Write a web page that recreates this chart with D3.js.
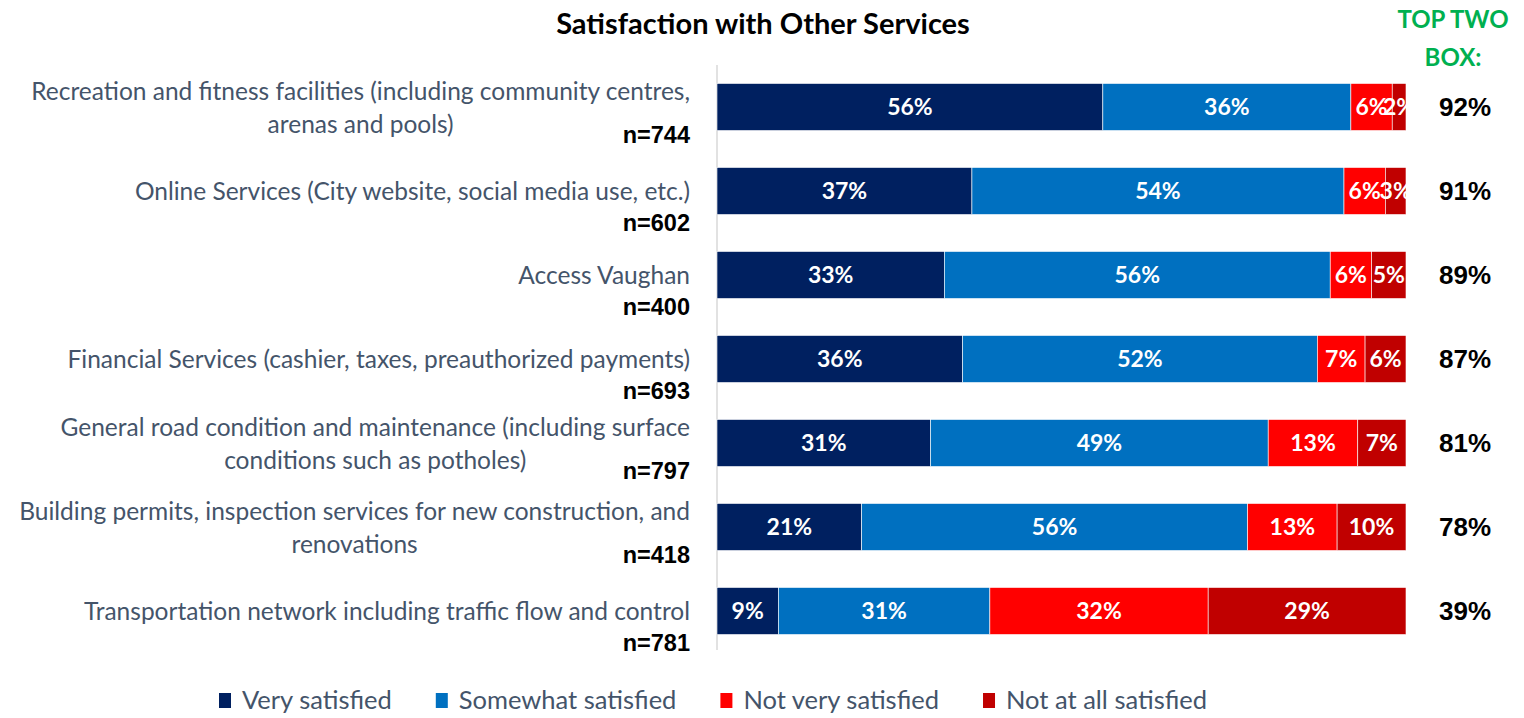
<!DOCTYPE html>
<html>
<head>
<meta charset="utf-8">
<script src="https://cdn.jsdelivr.net/npm/d3@7"></script>
<style>
    body { margin: 0; background: #fff; }
    svg { display: block; }
</style>
</head>
<body>
<div id="chart"></div>
<script>
// chart data
const categories = [
    ["Recreation and fitness facilities (including community centres,", "arenas and pools)"],
    ["Online Services (City website, social media use, etc.)"],
    ["Access Vaughan"],
    ["Financial Services (cashier, taxes, preauthorized payments)"],
    ["General road condition and maintenance (including surface", "conditions such as potholes)"],
    ["Building permits, inspection services for new construction, and", "renovations"],
    ["Transportation network including traffic flow and control"]
];
const sampleSizes = [744, 602, 400, 693, 797, 418, 781];
const seriesNames = ["Very satisfied", "Somewhat satisfied", "Not very satisfied", "Not at all satisfied"];
const verySatisfied = [56, 37, 33, 36, 31, 21, 9];
const somewhatSatisfied = [36, 54, 56, 52, 49, 56, 31];
const notVerySatisfied = [6, 6, 6, 7, 13, 13, 32];
const notAtAllSatisfied = [2, 3, 5, 6, 7, 10, 29];
const topTwoBox = [92, 91, 89, 87, 81, 78, 39];

const seriesColors = ["#002060", "#0070C0", "#FF0000", "#C00000"];
const labelFont = "Lato, 'Open Sans', sans-serif";
const numFont = "'Liberation Sans', Arial, sans-serif";
const labelSize = 24.5;

let width = 1524, height = 718;

let svg = d3.select("#chart").append("svg")
    .attr("width", width)
    .attr("height", height);

// build rows for the stack
let rows = categories.map((c, i) => ({
    idx: i,
    [seriesNames[0]]: verySatisfied[i],
    [seriesNames[1]]: somewhatSatisfied[i],
    [seriesNames[2]]: notVerySatisfied[i],
    [seriesNames[3]]: notAtAllSatisfied[i]
}));

let stacked = d3.stack()
    .keys(seriesNames)
    .offset(d3.stackOffsetExpand)(rows);

let x = d3.scaleLinear().domain([0, 1]).range([717, 1406]);
let y = d3.scaleBand()
    .domain(d3.range(categories.length))
    .range([65, 653])
    .paddingInner(0.44)
    .paddingOuter(0.22);
let color = d3.scaleOrdinal().domain(seriesNames).range(seriesColors);

// title
svg.append("text")
    .attr("x", 763).attr("y", 34)
    .attr("text-anchor", "middle")
    .style("font-family", labelFont)
    .style("font-weight", "bold")
    .style("font-size", "29px")
    .text("Satisfaction with Other Services");

// top two box header
svg.append("text")
    .attr("text-anchor", "middle")
    .style("font-family", labelFont)
    .style("font-weight", "bold")
    .style("font-size", "24px")
    .style("fill", "#00B050")
    .selectAll("tspan")
    .data(["TOP TWO", "BOX:"])
    .enter().append("tspan")
    .attr("x", 1453)
    .attr("y", (d, i) => 28 + i * 38)
    .text(d => d);

// axis line
svg.append("line")
    .attr("x1", x(0)).attr("x2", x(0))
    .attr("y1", y.range()[0]).attr("y2", y.range()[1] - 3)
    .style("stroke", "#D9D9D9")
    .style("stroke-width", 1.5);

// bars
let groups = svg.selectAll(".series")
    .data(stacked)
    .enter().append("g")
    .attr("class", "series")
    .style("fill", d => color(d.key));

groups.selectAll("rect")
    .data(d => d)
    .enter().append("rect")
    .attr("x", d => x(d[0]))
    .attr("y", d => y(d.data.idx))
    .attr("width", d => x(d[1]) - x(d[0]))
    .attr("height", y.bandwidth())
    .style("stroke", "#fff")
    .style("stroke-width", 0.6);

// values inside bars
groups.selectAll(".val")
    .data(d => d.map(v => ({v: v, key: d.key})))
    .enter().append("text")
    .attr("class", "val")
    .attr("x", d => (x(d.v[0]) + x(d.v[1])) / 2)
    .attr("y", d => y(d.v.data.idx) + y.bandwidth() / 2)
    .attr("dy", "0.35em")
    .attr("text-anchor", "middle")
    .style("fill", "#fff")
    .style("font-family", labelFont)
    .style("font-weight", "bold")
    .style("font-size", "23px")
    .text(d => d.v.data[d.key] + "%");

// second line is centred under the first one
function centerOf(text, right) {
    let tmp = svg.append("text")
        .style("font-family", labelFont)
        .style("font-size", labelSize + "px")
        .text(text);
    let w = tmp.node().getComputedTextLength();
    tmp.remove();
    return right - w / 2;
}

// category labels
categories.forEach((lines, i) => {
    let cy = y(i) + y.bandwidth() / 2;
    let two = lines.length > 1;
    let t = svg.append("text")
        .attr("text-anchor", "end")
        .style("font-family", labelFont)
        .style("font-size", labelSize + "px")
        .style("fill", "#44546A");
    lines.forEach((ln, j) => {
        let ly = two ? cy - 16 + j * 33 : cy;
        let ts = t.append("tspan").attr("y", ly).attr("dy", "0.35em").text(ln);
        if (j === 0) {
            ts.attr("x", 690);
        } else {
            ts.attr("text-anchor", "middle").attr("x", centerOf(lines[0], 690));
        }
    });
    svg.append("text")
        .attr("x", 690)
        .attr("y", cy + (two ? 28 : 32))
        .attr("dy", "0.35em")
        .attr("text-anchor", "end")
        .style("font-family", numFont)
        .style("font-weight", "bold")
        .style("font-size", "23.5px")
        .style("fill", "#000")
        .text("n=" + sampleSizes[i]);
});

// top two box values
svg.selectAll(".top2")
    .data(topTwoBox)
    .enter().append("text")
    .attr("class", "top2")
    .attr("x", 1465)
    .attr("y", (d, i) => y(i) + y.bandwidth() / 2)
    .attr("dy", "0.35em")
    .attr("text-anchor", "middle")
    .style("font-family", numFont)
    .style("font-weight", "bold")
    .style("font-size", "26px")
    .text(d => d + "%");

// legend
let legend = svg.append("g").attr("transform", "translate(219,700)");
let lx = 0;
seriesNames.forEach((name, i) => {
    let g = legend.append("g").attr("transform", `translate(${lx},0)`);
    g.append("rect")
        .attr("x", 0).attr("y", -7)
        .attr("width", 12).attr("height", 15)
        .style("fill", seriesColors[i]);
    let t = g.append("text")
        .attr("x", 23).attr("y", 0)
        .attr("dy", "0.35em")
        .style("font-family", labelFont)
        .style("font-size", "25.5px")
        .style("fill", "#44546A")
        .text(name);
    lx += 23 + t.node().getComputedTextLength() + 44;
});
</script>
</body>
</html>
